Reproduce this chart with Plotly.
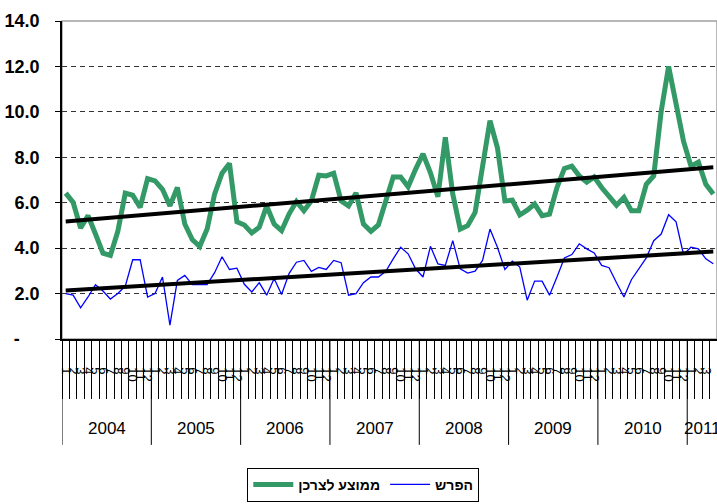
import numpy as np
import plotly.graph_objects as go

# ---- data ----
years = ["2004", "2005", "2006", "2007", "2008", "2009", "2010", "2011"]
months_per_year = [12, 12, 12, 12, 12, 12, 12, 4]

avg_consumer = [  # ממוצע לצרכן
    6.42, 6.01, 4.89, 5.43, 4.62, 3.78, 3.68, 4.74, 6.42, 6.33, 5.79, 7.06,
    6.96, 6.59, 5.86, 6.67, 5.06, 4.38, 4.07, 4.84, 6.38, 7.30, 7.73, 5.16,
    5.02, 4.67, 4.92, 5.86, 5.06, 4.77, 5.50, 6.05, 5.65, 6.08, 7.21, 7.18,
    7.30, 6.08, 5.86, 6.43, 5.06, 4.74, 5.02, 6.05, 7.13, 7.13, 6.70, 7.47,
    8.15, 7.32, 6.26, 8.88, 6.38, 4.84, 4.99, 5.57, 7.61, 9.61, 8.42, 6.08,
    6.11, 5.46, 5.67, 5.94, 5.43, 5.50, 6.67, 7.51, 7.61, 7.18, 6.91, 7.13,
    6.67, 6.30, 5.89, 6.23, 5.65, 5.65, 6.81, 7.18, 10.02, 12.00, 10.39, 8.71,
    7.61, 7.79, 6.81, 6.38,
]
difference = [  # הפרש
    2.00, 1.93, 1.37, 1.85, 2.39, 2.11, 1.76, 2.00, 2.33, 3.49, 3.49, 1.85,
    2.00, 2.73, 0.61, 2.58, 2.80, 2.39, 2.39, 2.39, 2.92, 3.62, 3.06, 3.12,
    2.41, 2.07, 2.48, 1.93, 2.66, 1.96, 2.88, 3.38, 3.46, 2.98, 3.15, 3.06,
    3.46, 3.36, 1.93, 2.00, 2.48, 2.73, 2.73, 2.98, 3.53, 4.04, 3.75, 3.09,
    2.73, 4.08, 3.31, 3.24, 4.33, 3.09, 2.90, 2.99, 3.46, 4.84, 4.04, 3.06,
    3.43, 3.17, 1.71, 2.55, 2.55, 1.93, 2.73, 3.57, 3.72, 4.19, 3.97, 3.79,
    3.24, 3.14, 2.48, 1.85, 2.61, 3.09, 3.57, 4.33, 4.62, 5.47, 5.16, 3.72,
    4.04, 3.97, 3.53, 3.31,
]
y_tickvals = [0, 2, 4, 6, 8, 10, 12, 14]
y_ticktext = ["-\u00a0\u00a0\u00a0\u00a0", "2.0", "4.0", "6.0", "8.0", "10.0", "12.0", "14.0"]

# ---- derived positions ----
month_labels = []
year_start = []
for n in months_per_year:
    year_start.append(len(month_labels))
    month_labels += [str(m) for m in range(1, n + 1)]
x = list(range(len(month_labels)))
xa = np.array(x, dtype=float)

def trend(vals):
    k, b = np.polyfit(xa, np.array(vals), 1)
    return [k * xa[0] + b, k * xa[-1] + b]

GREEN = "rgb(51,153,102)"
BLUE = "rgb(0,0,255)"
FONT = "Liberation Sans, Arial, sans-serif"

fig = go.Figure()
fig.add_trace(go.Scatter(x=x, y=avg_consumer, mode="lines", name="ממוצע לצרכן",
                         line=dict(color=GREEN, width=5)))
fig.add_trace(go.Scatter(x=x, y=difference, mode="lines", name="הפרש",
                         line=dict(color=BLUE, width=1.3)))
fig.add_trace(go.Scatter(x=[x[0], x[-1]], y=trend(avg_consumer), mode="lines",
                         line=dict(color="black", width=4), showlegend=False, hoverinfo="skip"))
fig.add_trace(go.Scatter(x=[x[0], x[-1]], y=trend(difference), mode="lines",
                         line=dict(color="black", width=4), showlegend=False, hoverinfo="skip"))

shapes = [dict(type="rect", xref="paper", yref="paper", x0=0, x1=1, y0=0, y1=1,
               line=dict(color="#a0a0a0", width=1.5), layer="below")]
for s in year_start:
    shapes.append(dict(type="line", xref="x", yref="paper", x0=s - 0.5, x1=s - 0.5,
                       y0=0, y1=-0.333, line=dict(color="black", width=1)))

annotations = []
for yr, s, n in zip(years, year_start, months_per_year):
    annotations.append(dict(x=s + (n - 1) / 2, y=-0.28, xref="x", yref="paper",
                            text=yr, showarrow=False, xanchor="center", yanchor="middle",
                            font=dict(family=FONT, size=17, color="black")))

fig.update_layout(
    width=717, height=504,
    margin=dict(l=62, r=0, t=21, b=165),
    paper_bgcolor="white", plot_bgcolor="white",
    showlegend=True,
    legend=dict(orientation="h", x=0.46, xanchor="center", y=-0.405, yanchor="top",
                bordercolor="black", borderwidth=1, bgcolor="white",
                font=dict(family=FONT, size=14, color="black", weight="bold"),
                itemwidth=40),
    shapes=shapes,
    annotations=annotations,
    xaxis=dict(range=[-0.5, len(x) - 0.5], tickmode="array", tickvals=x,
               ticktext=month_labels, tickangle=90, ticks="", automargin=False,
               tickfont=dict(family=FONT, size=13, color="black"),
               ticklabelstandoff=24,
               showline=True, linecolor="black", linewidth=1.5,
               showgrid=False, zeroline=False,
               minor=dict(tickmode="array", tickvals=[i - 0.5 for i in range(len(x) + 1)],
                          ticks="outside", ticklen=58, tickcolor="black", tickwidth=1,
                          showgrid=False)),
    yaxis=dict(range=[0, 14], tickmode="array", tickvals=y_tickvals, ticktext=y_ticktext,
               tickfont=dict(family=FONT, size=18, color="black", weight="bold"),
               ticks="outside", ticklen=5, tickcolor="black", ticklabelstandoff=12,
               automargin=False,
               showline=True, linecolor="black", linewidth=1.5,
               showgrid=True, gridcolor="#333333", griddash="5px,4px", gridwidth=1,
               zeroline=False),
)

fig.write_html("out.html", config={"displayModeBar": False},
               post_script="document.body.style.margin='0';document.body.style.overflow='hidden';")
